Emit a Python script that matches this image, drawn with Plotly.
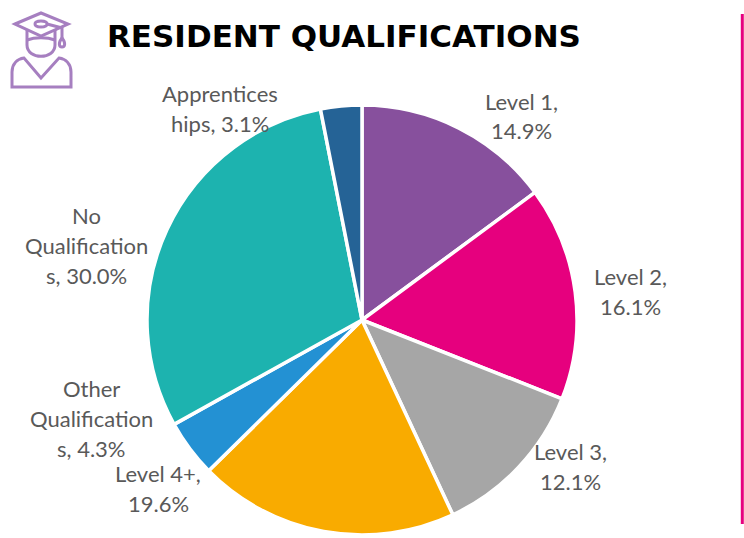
import plotly.graph_objects as go

W, H = 744, 538
categories = ["Level 1", "Level 2", "Level 3", "Level 4+", "Other Qualifications", "No Qualifications", "Apprenticeships"]
values = [14.9, 16.1, 12.1, 19.6, 4.3, 30.0, 3.1]
colors = ["#87509D", "#E6007E", "#A6A6A6", "#F9AB00", "#2391D3", "#1DB3AF", "#256396"]
# how each label wraps: name lines, then whether the value starts a new line
name_lines = [["Level 1,"], ["Level 2,"], ["Level 3,"], ["Level 4+,"],
              ["Other", "Qualification", "s,"], ["No", "Qualification", "s,"], ["Apprentices", "hips,"]]
value_on_own_line = [True, True, True, True, False, False, False]
# centre of each label and of its first line (pixels)
label_xy = [(521, 101), (630, 276), (570, 451), (158, 473), (91, 388), (86, 215), (220, 93)]
LINE_GAP = 30

fig = go.Figure(go.Pie(
    labels=categories, values=values, sort=False, direction="clockwise", rotation=0,
    marker=dict(colors=colors, line=dict(color="white", width=3.5)),
    textinfo="none", hoverinfo="label+percent", showlegend=False,
    domain=dict(x=[147 / W, 577 / W], y=[1 - 535 / H, 1 - 105 / H]),
))

def px(x, y):
    return f"{x / W:.5f},{1 - y / H:.5f}"

def path(*cmds):
    return " ".join(c if isinstance(c, str) else px(*c) for c in cmds)

ICON = "#A67FC0"
icon_paths = [
    path("M", (15, 24), "L", (41, 13), "L", (68, 24), "L", (41, 36), "Z"),
    path("M", (27, 30), "L", (27, 45), "C", (27, 60), (55, 60), (55, 45), "L", (55, 30)),
    path("M", (27, 40), "C", (35, 37), (47, 37), (55, 40)),
    path("M", (35, 24), "C", (35, 20), (47, 20), (47, 24), "C", (47, 28), (35, 28), (35, 24), "Z"),
    path("M", (47, 24), "L", (62, 28), "L", (62, 39)),
    path("M", (62, 38), "C", (58, 43), (59, 47), (62, 47), "C", (65, 47), (66, 43), (62, 38), "Z"),
    path("M", (12, 87), "L", (12, 72), "C", (12, 64), (17, 59), (24, 58), "L", (41, 78), "L", (59, 58),
         "C", (66, 59), (71, 64), (71, 72), "L", (71, 87), "Z"),
]
shapes = [dict(type="path", xref="paper", yref="paper", path=p, line=dict(color=ICON, width=3)) for p in icon_paths]
shapes.append(dict(type="line", xref="paper", yref="paper", x0=742.3 / W, x1=742.3 / W, y0=1 - 14 / H, y1=1 - 524 / H,
                   line=dict(color="#E6007E", width=3)))

annotations = []
for lines, val, own, (x, y) in zip(name_lines, values, value_on_own_line, label_xy):
    pct = f"{val:.1f}%"
    shown = lines + [pct] if own else lines[:-1] + [f"{lines[-1]} {pct}"]
    for i, line in enumerate(shown):
        annotations.append(dict(
            text=line, x=x / W, y=1 - (y + i * LINE_GAP) / H, xref="paper", yref="paper", showarrow=False,
            xanchor="center", yanchor="middle", font=dict(family="Lato", size=22, color="#595959"),
        ))
annotations.append(dict(
    text="<b>RESIDENT QUALIFICATIONS</b>", x=105 / W, y=1 - 36 / H, xref="paper", yref="paper", showarrow=False,
    xanchor="left", yanchor="middle", font=dict(family="DejaVu Sans", size=31, color="#000000"),
))

fig.update_layout(width=W, height=H, margin=dict(l=0, r=0, t=0, b=0), paper_bgcolor="white",
                  shapes=shapes, annotations=annotations)
fig.write_html("out.html", config=dict(displayModeBar=False), post_script="document.body.style.margin='0';")
